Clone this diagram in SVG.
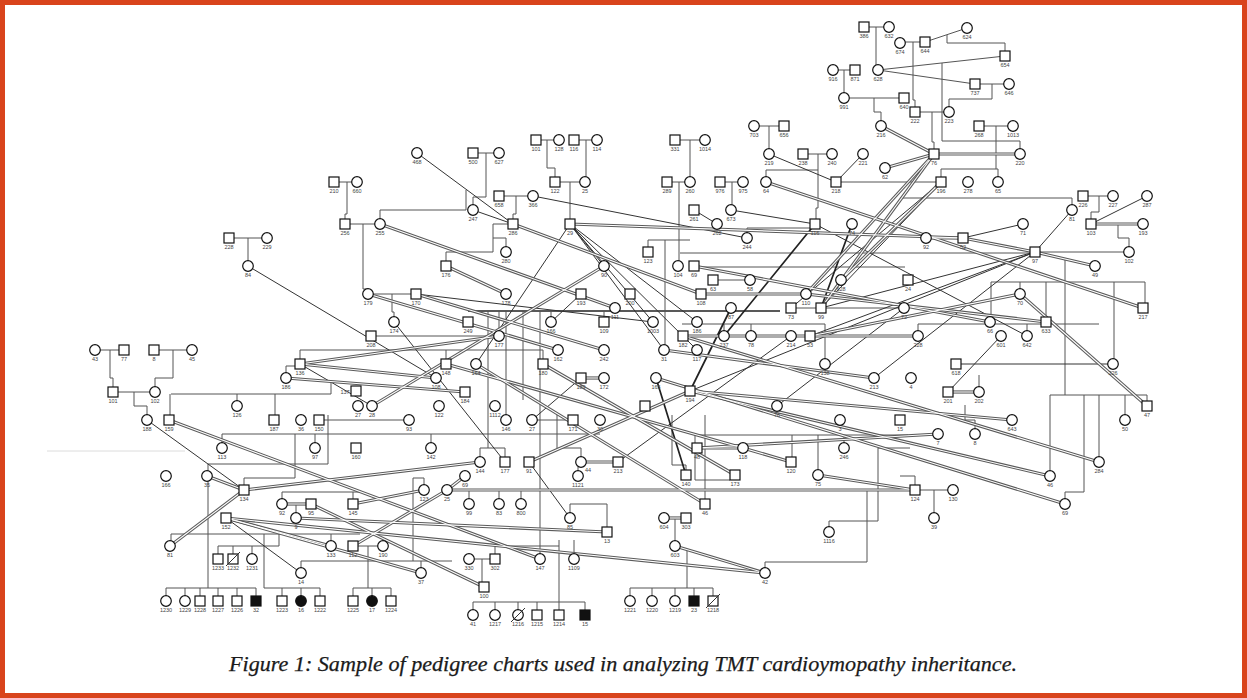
<svg xmlns="http://www.w3.org/2000/svg" xmlns:xlink="http://www.w3.org/1999/xlink" width="1247" height="698" viewBox="0 0 1247 698">
<style>
.s{fill:#fff;stroke:#111;stroke-width:1.2}
.f{fill:#111;stroke:#111;stroke-width:1.2}
text{font-family:"Liberation Sans",Arial,sans-serif;font-size:5.5px;fill:#444;text-anchor:middle}
.l{fill:none;stroke:#555;stroke-width:1}
.d{fill:none;stroke:#333;stroke-width:1}
.t{fill:none;stroke:#222;stroke-width:1.7}
.dO{fill:none;stroke:#5a5a5a;stroke-width:3.2}
.dI{fill:none;stroke:#fff;stroke-width:1.1}
.cap{font-family:"Liberation Serif","Times New Roman",serif;font-style:italic;font-size:21px;fill:#1a1a1a;text-anchor:start;stroke:#1a1a1a;stroke-width:0.25}
</style>
<defs>
<g id="dbl">
<path d="M934,154H1020"/><path d="M881,126L934,154"/><path d="M885,168L934,154"/><path d="M766,182L1143,308"/>
<path d="M926,238H963"/><path d="M963,238L1035,252"/><path d="M1035,252L1095,266"/><path d="M1091,224H1143"/>
<path d="M380,224L615,308"/><path d="M513,224L701,294"/><path d="M570,224L963,238"/><path d="M446,266L506,294"/>
<path d="M604,266L372,406"/><path d="M368,294L558,350"/><path d="M416,294L604,350"/><path d="M499,336L300,364"/>
<path d="M300,364L436,378"/><path d="M286,378L465,392"/><path d="M581,378H604"/><path d="M446,364L743,448"/>
<path d="M697,448H743"/><path d="M743,448L791,462"/><path d="M169,420L540,559"/><path d="M207,476L244,490"/>
<path d="M244,490L170,546"/><path d="M244,490L480,462"/><path d="M282,504H311"/><path d="M296,518L607,532"/>
<path d="M226,518L331,546"/><path d="M226,518L765,573"/><path d="M226,518L421,573"/><path d="M311,504L484,587"/>
<path d="M529,462L690,391"/><path d="M581,462H618"/><path d="M447,490H915"/><path d="M447,490L465,476"/>
<path d="M424,490L353,504"/><path d="M447,490L353,546"/><path d="M476,364L705,504"/><path d="M664,518H686"/>
<path d="M675,546L765,573"/><path d="M818,475L915,490"/><path d="M1020,294L1147,406"/><path d="M806,294L1046,322"/>
<path d="M694,266L990,322"/><path d="M683,336L918,336"/><path d="M810,336L1020,294"/><path d="M701,294H806"/>
<path d="M664,350L874,378"/><path d="M948,392H979"/><path d="M697,448L938,434"/><path d="M690,391L1012,420"/>
<path d="M690,391L1050,476"/><path d="M683,336L1099,462"/><path d="M656,378L1065,504"/><path d="M543,364L735,475"/>
<path d="M934,154L806,294"/><path d="M934,154L821,308"/><path d="M941,182L841,280"/>
</g>
</defs>
<rect x="0" y="0" width="1247" height="698" fill="#fff"/>
<rect x="2.5" y="2.5" width="1242" height="693" fill="none" stroke="#d9441c" stroke-width="5"/>
<path d="M47,451H185" stroke="#dcdcdc" stroke-width="1" fill="none"/>
<g id="connectors">
<path class="l" d="M864,27H889M876,27V65M900,42H925M913,42V100H915V107M925,42L967,28M947,35V43H1005V51M833,70H855M844,70V93M878,70L1005,56M878,70L975,84M942,63V141H1020V149M975,84H1009M992,84V99H949V107M844,98H904M874,98V112H881V121M915,112H949M932,112V142H934V149M979,126H1013M996,126V169M941,169H998M941,169V177M998,169V177M754,126H784M769,126V149M675,140H705M690,140V177M536,140H559M547,140V168H555V177M574,140H597M586,140V177M473,153H499M486,153V197H473V205M466,190V210H380V219M803,154H832M818,154V208H816V219M766,170H818M766,170V177M555,182H585M570,182V219M667,182H690M679,182V261M720,182H743M732,182V205M836,182H941M334,182H357M347,182V214H345V219M499,196H533M516,196V214H513V219M1083,196H1113M1099,196V212H1091V219M1118,224V238H1129V247M1035,252H1129M1072,205V198H900M747,233V228H818M345,224H380M363,224V289H368M368,294H416M392,294V312H394V317M493,224H513M493,224V252H446V261M493,238H506V247M229,238H267M248,238V261M648,247V240H690M680,253H1030M700,267H905M712,280H750M791,308H821M821,308H904"/>
<path class="t" d="M468,311H780"/>
<path class="l" d="M488,311V448M499,311V331M506,311V415M523,311V400M540,311V554M551,311V317M604,311V317M682,324H825V359M724,324V331M751,324V331M665,240V345M95,350H124M110,350V378H113V387M154,350H192M173,350V378H155V387M113,392H155M134,392V406H147V415M300,350V359M300,350H543V359M446,350V359M286,373V366H295M171,394H331V383M170,394V415M237,394V401M275,394V415M371,336H499M320,420H409M532,420H573M222,434H600M222,434V443M315,434V443M328,415V464M431,434V443M208,464H328M208,464V471M208,481V588M166,588H256M166,588V596M185,588V596M200,588V596M218,588V596M237,588V596M256,588V596M244,485V478H295V434M282,492H360M282,492V499M353,492V499M296,504V513M171,534H360M171,534V541M331,534V541M279,534V546H218V554M233,546V554M252,546V554M264,534V588H320M282,588V596M301,588V596M320,588V596M301,568V561H452M421,561V568M413,478H424V485M413,478V561M353,546H383M368,546V588M353,588H391M353,588V596M372,588V596M391,588V596M469,559H495M482,559V582M495,554V546H559M559,540V602M473,602H585M473,602V610M495,602V610M518,602V610M537,602V610M559,602V610M585,602V610M574,554V540M480,457V448H505V457M560,448H581V457M557,415V448M578,471V467M469,490V499M499,490V499M521,490V499M570,513V504H607V527M672,415V465H686V470M705,415V499M695,435H908M695,435V480H730M792,435V457M818,435V470M844,443V435M878,448H910M878,448V521H829V527M675,518V541M687,551V588M630,588H713M630,588V596M652,588V596M675,588V596M694,588V596M713,588V596M765,568V562H867V491M900,476H915V485M915,490H953M934,490V513M1065,259V395M1050,395H1147M1050,395V471M1084,395V492H1065V499M1099,395V457M1125,395V415M1147,395V401M965,405V420H975V429M991,282H1145M991,282V317M1020,282V289M1046,282V317M1114,282V359M1145,282V303M918,324H1099M918,324V331M1027,324V331M979,387V375"/>
<path class="d" d="M417,153L513,224M473,210L513,224M533,196L747,238M769,154L836,182M863,154L836,182M694,210L717,224M731,210L815,224M248,266L436,378M570,224L476,364M570,224L604,266M570,224L697,322M570,224L697,350M570,224L653,322M570,224L664,350M416,294L653,322M394,322L505,462M551,322L581,294M581,378L532,420M147,420L244,490M300,364L372,406M226,518L301,573M529,462L570,518M791,336L618,462M777,406L904,308M963,238L1023,224M1035,252L1072,210M1035,252L690,391M1035,252L810,336M1035,252L874,378M1035,252L821,308M1147,196L1091,224M1001,336L948,392M815,224L1027,336M941,182L821,308M941,182L791,308M956,364L1113,364"/>
<path class="t" d="M815,224L724,336M731,308L690,391M821,308L852,224M656,378L686,475"/>
<use xlink:href="#dbl" href="#dbl" class="dO"/>
<use xlink:href="#dbl" href="#dbl" class="dI"/>
</g>
<g id="n386"><rect class="s" x="859" y="22" width="10" height="10"/><text x="864" y="38">386</text></g>
<g id="n632"><circle class="s" cx="889" cy="27" r="5.3"/><text x="889" y="38">632</text></g>
<g id="n674"><circle class="s" cx="900" cy="43" r="5.3"/><text x="900" y="54">674</text></g>
<g id="n644"><rect class="s" x="920" y="37" width="10" height="10"/><text x="925" y="53">644</text></g>
<g id="n624"><circle class="s" cx="967" cy="28" r="5.3"/><text x="967" y="39">624</text></g>
<g id="n654"><rect class="s" x="1000" y="51" width="10" height="10"/><text x="1005" y="67">654</text></g>
<g id="n916"><circle class="s" cx="833" cy="70" r="5.3"/><text x="833" y="81">916</text></g>
<g id="n871"><rect class="s" x="850" y="65" width="10" height="10"/><text x="855" y="81">871</text></g>
<g id="n628a"><circle class="s" cx="878" cy="70" r="5.3"/><text x="878" y="81">628</text></g>
<g id="n737"><rect class="s" x="970" y="79" width="10" height="10"/><text x="975" y="95">737</text></g>
<g id="n646"><circle class="s" cx="1009" cy="84" r="5.3"/><text x="1009" y="95">646</text></g>
<g id="n991"><circle class="s" cx="844" cy="98" r="5.3"/><text x="844" y="109">991</text></g>
<g id="n640"><rect class="s" x="899" y="93" width="10" height="10"/><text x="904" y="109">640</text></g>
<g id="n222"><rect class="s" x="910" y="107" width="10" height="10"/><text x="915" y="123">222</text></g>
<g id="n223"><circle class="s" cx="949" cy="112" r="5.3"/><text x="949" y="123">223</text></g>
<g id="n216"><circle class="s" cx="881" cy="126" r="5.3"/><text x="881" y="137">216</text></g>
<g id="n703"><circle class="s" cx="754" cy="126" r="5.3"/><text x="754" y="137">703</text></g>
<g id="n656"><rect class="s" x="779" y="121" width="10" height="10"/><text x="784" y="137">656</text></g>
<g id="n268"><rect class="s" x="974" y="121" width="10" height="10"/><text x="979" y="137">268</text></g>
<g id="n1013"><circle class="s" cx="1013" cy="126" r="5.3"/><text x="1013" y="137">1013</text></g>
<g id="n331"><rect class="s" x="670" y="135" width="10" height="10"/><text x="675" y="151">331</text></g>
<g id="n1014"><circle class="s" cx="705" cy="140" r="5.3"/><text x="705" y="151">1014</text></g>
<g id="n101a"><rect class="s" x="531" y="135" width="10" height="10"/><text x="536" y="151">101</text></g>
<g id="n128"><circle class="s" cx="559" cy="140" r="5.3"/><text x="559" y="151">128</text></g>
<g id="n116a"><rect class="s" x="569" y="135" width="10" height="10"/><text x="574" y="151">116</text></g>
<g id="n114"><circle class="s" cx="597" cy="140" r="5.3"/><text x="597" y="151">114</text></g>
<g id="n468"><circle class="s" cx="417" cy="153" r="5.3"/><text x="417" y="164">468</text></g>
<g id="n500"><rect class="s" x="468" y="148" width="10" height="10"/><text x="473" y="164">500</text></g>
<g id="n627"><circle class="s" cx="499" cy="153" r="5.3"/><text x="499" y="164">627</text></g>
<g id="n76a"><rect class="s" x="929" y="149" width="10" height="10"/><text x="934" y="165">76</text></g>
<g id="n220"><circle class="s" cx="1020" cy="154" r="5.3"/><text x="1020" y="165">220</text></g>
<g id="n62"><circle class="s" cx="885" cy="168" r="5.3"/><text x="885" y="179">62</text></g>
<g id="n219"><circle class="s" cx="769" cy="154" r="5.3"/><text x="769" y="165">219</text></g>
<g id="n238"><rect class="s" x="798" y="149" width="10" height="10"/><text x="803" y="165">238</text></g>
<g id="n240"><circle class="s" cx="832" cy="154" r="5.3"/><text x="832" y="165">240</text></g>
<g id="n221"><circle class="s" cx="863" cy="154" r="5.3"/><text x="863" y="165">221</text></g>
<g id="n122a"><rect class="s" x="550" y="177" width="10" height="10"/><text x="555" y="193">122</text></g>
<g id="n25a"><circle class="s" cx="585" cy="182" r="5.3"/><text x="585" y="193">25</text></g>
<g id="n289"><rect class="s" x="662" y="177" width="10" height="10"/><text x="667" y="193">289</text></g>
<g id="n260"><circle class="s" cx="690" cy="182" r="5.3"/><text x="690" y="193">260</text></g>
<g id="n976"><rect class="s" x="715" y="177" width="10" height="10"/><text x="720" y="193">976</text></g>
<g id="n975"><circle class="s" cx="743" cy="182" r="5.3"/><text x="743" y="193">975</text></g>
<g id="n64"><circle class="s" cx="766" cy="182" r="5.3"/><text x="766" y="193">64</text></g>
<g id="n218"><rect class="s" x="831" y="177" width="10" height="10"/><text x="836" y="193">218</text></g>
<g id="n196"><rect class="s" x="936" y="177" width="10" height="10"/><text x="941" y="193">196</text></g>
<g id="n278"><circle class="s" cx="968" cy="182" r="5.3"/><text x="968" y="193">278</text></g>
<g id="n65"><circle class="s" cx="998" cy="182" r="5.3"/><text x="998" y="193">65</text></g>
<g id="n210"><rect class="s" x="329" y="177" width="10" height="10"/><text x="334" y="193">210</text></g>
<g id="n660"><circle class="s" cx="357" cy="182" r="5.3"/><text x="357" y="193">660</text></g>
<g id="n658"><rect class="s" x="494" y="191" width="10" height="10"/><text x="499" y="207">658</text></g>
<g id="n366"><circle class="s" cx="533" cy="196" r="5.3"/><text x="533" y="207">366</text></g>
<g id="n247"><circle class="s" cx="473" cy="210" r="5.3"/><text x="473" y="221">247</text></g>
<g id="n261"><rect class="s" x="689" y="205" width="10" height="10"/><text x="694" y="221">261</text></g>
<g id="n673"><circle class="s" cx="731" cy="210" r="5.3"/><text x="731" y="221">673</text></g>
<g id="n226a"><rect class="s" x="1078" y="191" width="10" height="10"/><text x="1083" y="207">226</text></g>
<g id="n227"><circle class="s" cx="1113" cy="196" r="5.3"/><text x="1113" y="207">227</text></g>
<g id="n287"><circle class="s" cx="1147" cy="196" r="5.3"/><text x="1147" y="207">287</text></g>
<g id="n81a"><circle class="s" cx="1072" cy="210" r="5.3"/><text x="1072" y="221">81</text></g>
<g id="n256"><rect class="s" x="340" y="219" width="10" height="10"/><text x="345" y="235">256</text></g>
<g id="n255"><circle class="s" cx="380" cy="224" r="5.3"/><text x="380" y="235">255</text></g>
<g id="n286"><rect class="s" x="508" y="219" width="10" height="10"/><text x="513" y="235">286</text></g>
<g id="n29"><rect class="s" x="565" y="219" width="10" height="10"/><text x="570" y="235">29</text></g>
<g id="n262"><circle class="s" cx="717" cy="224" r="5.3"/><text x="717" y="235">262</text></g>
<g id="n244"><circle class="s" cx="747" cy="238" r="5.3"/><text x="747" y="249">244</text></g>
<g id="n116b"><rect class="s" x="810" y="219" width="10" height="10"/><text x="815" y="235">116</text></g>
<g id="n74"><circle class="s" cx="852" cy="224" r="5.3"/><text x="852" y="235">74</text></g>
<g id="n103"><rect class="s" x="1086" y="219" width="10" height="10"/><text x="1091" y="235">103</text></g>
<g id="n193a"><circle class="s" cx="1143" cy="224" r="5.3"/><text x="1143" y="235">193</text></g>
<g id="n71"><circle class="s" cx="1023" cy="224" r="5.3"/><text x="1023" y="235">71</text></g>
<g id="n228a"><rect class="s" x="224" y="233" width="10" height="10"/><text x="229" y="249">228</text></g>
<g id="n229"><circle class="s" cx="267" cy="238" r="5.3"/><text x="267" y="249">229</text></g>
<g id="n84"><circle class="s" cx="248" cy="266" r="5.3"/><text x="248" y="277">84</text></g>
<g id="n92a"><circle class="s" cx="926" cy="238" r="5.3"/><text x="926" y="249">92</text></g>
<g id="n52"><rect class="s" x="958" y="233" width="10" height="10"/><text x="963" y="249">52</text></g>
<g id="n102a"><circle class="s" cx="1129" cy="252" r="5.3"/><text x="1129" y="263">102</text></g>
<g id="n123a"><rect class="s" x="643" y="247" width="10" height="10"/><text x="648" y="263">123</text></g>
<g id="n97a"><rect class="s" x="1030" y="247" width="10" height="10"/><text x="1035" y="263">97</text></g>
<g id="n280"><circle class="s" cx="506" cy="252" r="5.3"/><text x="506" y="263">280</text></g>
<g id="n49"><circle class="s" cx="1095" cy="266" r="5.3"/><text x="1095" y="277">49</text></g>
<g id="n176"><rect class="s" x="441" y="261" width="10" height="10"/><text x="446" y="277">176</text></g>
<g id="n90"><circle class="s" cx="604" cy="266" r="5.3"/><text x="604" y="277">90</text></g>
<g id="n104"><circle class="s" cx="678" cy="266" r="5.3"/><text x="678" y="277">104</text></g>
<g id="n69a"><rect class="s" x="689" y="261" width="10" height="10"/><text x="694" y="277">69</text></g>
<g id="n63"><rect class="s" x="708" y="275" width="10" height="10"/><text x="713" y="291">63</text></g>
<g id="n58"><circle class="s" cx="750" cy="280" r="5.3"/><text x="750" y="291">58</text></g>
<g id="n628b"><circle class="s" cx="841" cy="280" r="5.3"/><text x="841" y="291">628</text></g>
<g id="n24"><rect class="s" x="903" y="275" width="10" height="10"/><text x="908" y="291">24</text></g>
<g id="n179"><circle class="s" cx="368" cy="294" r="5.3"/><text x="368" y="305">179</text></g>
<g id="n170"><rect class="s" x="411" y="289" width="10" height="10"/><text x="416" y="305">170</text></g>
<g id="n178"><circle class="s" cx="506" cy="294" r="5.3"/><text x="506" y="305">178</text></g>
<g id="n193b"><rect class="s" x="576" y="289" width="10" height="10"/><text x="581" y="305">193</text></g>
<g id="n200"><rect class="s" x="625" y="289" width="10" height="10"/><text x="630" y="305">200</text></g>
<g id="n111"><circle class="s" cx="615" cy="308" r="5.3"/><text x="615" y="319">111</text></g>
<g id="n108a"><rect class="s" x="696" y="289" width="10" height="10"/><text x="701" y="305">108</text></g>
<g id="n110"><circle class="s" cx="806" cy="294" r="5.3"/><text x="806" y="305">110</text></g>
<g id="n87"><circle class="s" cx="731" cy="308" r="5.3"/><text x="731" y="319">87</text></g>
<g id="n73"><rect class="s" x="786" y="303" width="10" height="10"/><text x="791" y="319">73</text></g>
<g id="n99a"><rect class="s" x="816" y="303" width="10" height="10"/><text x="821" y="319">99</text></g>
<g id="n72"><circle class="s" cx="904" cy="308" r="5.3"/><text x="904" y="319">72</text></g>
<g id="n249"><rect class="s" x="463" y="317" width="10" height="10"/><text x="468" y="333">249</text></g>
<g id="n166a"><circle class="s" cx="551" cy="322" r="5.3"/><text x="551" y="333">166</text></g>
<g id="n109"><rect class="s" x="599" y="317" width="10" height="10"/><text x="604" y="333">109</text></g>
<g id="n174"><circle class="s" cx="394" cy="322" r="5.3"/><text x="394" y="333">174</text></g>
<g id="n1003"><circle class="s" cx="653" cy="322" r="5.3"/><text x="653" y="333">1003</text></g>
<g id="n186a"><circle class="s" cx="697" cy="322" r="5.3"/><text x="697" y="333">186</text></g>
<g id="n70"><circle class="s" cx="1020" cy="294" r="5.3"/><text x="1020" y="305">70</text></g>
<g id="n217"><rect class="s" x="1138" y="303" width="10" height="10"/><text x="1143" y="319">217</text></g>
<g id="n66"><circle class="s" cx="990" cy="322" r="5.3"/><text x="990" y="333">66</text></g>
<g id="n633"><rect class="s" x="1041" y="317" width="10" height="10"/><text x="1046" y="333">633</text></g>
<g id="n208"><rect class="s" x="366" y="331" width="10" height="10"/><text x="371" y="347">208</text></g>
<g id="n177a"><circle class="s" cx="499" cy="336" r="5.3"/><text x="499" y="347">177</text></g>
<g id="n182"><rect class="s" x="678" y="331" width="10" height="10"/><text x="683" y="347">182</text></g>
<g id="n237"><circle class="s" cx="724" cy="336" r="5.3"/><text x="724" y="347">237</text></g>
<g id="n78"><circle class="s" cx="751" cy="336" r="5.3"/><text x="751" y="347">78</text></g>
<g id="n214"><circle class="s" cx="791" cy="336" r="5.3"/><text x="791" y="347">214</text></g>
<g id="n53"><rect class="s" x="805" y="331" width="10" height="10"/><text x="810" y="347">53</text></g>
<g id="n228b"><circle class="s" cx="918" cy="336" r="5.3"/><text x="918" y="347">228</text></g>
<g id="n642"><circle class="s" cx="1027" cy="336" r="5.3"/><text x="1027" y="347">642</text></g>
<g id="n601"><circle class="s" cx="1001" cy="336" r="5.3"/><text x="1001" y="347">601</text></g>
<g id="n43"><circle class="s" cx="95" cy="350" r="5.3"/><text x="95" y="361">43</text></g>
<g id="n77"><rect class="s" x="119" y="345" width="10" height="10"/><text x="124" y="361">77</text></g>
<g id="n8a"><rect class="s" x="149" y="345" width="10" height="10"/><text x="154" y="361">8</text></g>
<g id="n45"><circle class="s" cx="192" cy="350" r="5.3"/><text x="192" y="361">45</text></g>
<g id="n162"><circle class="s" cx="558" cy="350" r="5.3"/><text x="558" y="361">162</text></g>
<g id="n242"><circle class="s" cx="604" cy="350" r="5.3"/><text x="604" y="361">242</text></g>
<g id="n31"><circle class="s" cx="664" cy="350" r="5.3"/><text x="664" y="361">31</text></g>
<g id="n117"><circle class="s" cx="697" cy="350" r="5.3"/><text x="697" y="361">117</text></g>
<g id="n136"><rect class="s" x="295" y="359" width="10" height="10"/><text x="300" y="375">136</text></g>
<g id="n148"><rect class="s" x="441" y="359" width="10" height="10"/><text x="446" y="375">148</text></g>
<g id="n164"><circle class="s" cx="476" cy="364" r="5.3"/><text x="476" y="375">164</text></g>
<g id="n180"><rect class="s" x="538" y="359" width="10" height="10"/><text x="543" y="375">180</text></g>
<g id="n138"><circle class="s" cx="825" cy="364" r="5.3"/><text x="825" y="375">138</text></g>
<g id="n618"><rect class="s" x="951" y="359" width="10" height="10"/><text x="956" y="375">618</text></g>
<g id="n226b"><circle class="s" cx="1113" cy="364" r="5.3"/><text x="1113" y="375">226</text></g>
<g id="n186b"><circle class="s" cx="286" cy="378" r="5.3"/><text x="286" y="389">186</text></g>
<g id="n108b"><circle class="s" cx="436" cy="378" r="5.3"/><text x="436" y="389">108</text></g>
<g id="n189"><rect class="s" x="576" y="373" width="10" height="10"/><text x="581" y="389">189</text></g>
<g id="n172"><circle class="s" cx="604" cy="378" r="5.3"/><text x="604" y="389">172</text></g>
<g id="n165"><circle class="s" cx="656" cy="378" r="5.3"/><text x="656" y="389">165</text></g>
<g id="n213a"><circle class="s" cx="874" cy="378" r="5.3"/><text x="874" y="389">213</text></g>
<g id="n4"><circle class="s" cx="911" cy="378" r="5.3"/><text x="911" y="389">4</text></g>
<g id="n101b"><rect class="s" x="108" y="387" width="10" height="10"/><text x="113" y="403">101</text></g>
<g id="n102b"><circle class="s" cx="155" cy="392" r="5.3"/><text x="155" y="403">102</text></g>
<g id="n137"><rect class="s" x="351" y="386" width="10" height="10"/><text x="345" y="394">137</text></g>
<g id="n184"><rect class="s" x="460" y="387" width="10" height="10"/><text x="465" y="403">184</text></g>
<g id="n194"><rect class="s" x="685" y="386" width="10" height="10"/><text x="690" y="402">194</text></g>
<g id="n201"><rect class="s" x="943" y="387" width="10" height="10"/><text x="948" y="403">201</text></g>
<g id="n202"><circle class="s" cx="979" cy="392" r="5.3"/><text x="979" y="403">202</text></g>
<g id="n126"><circle class="s" cx="237" cy="406" r="5.3"/><text x="237" y="417">126</text></g>
<g id="n27a"><circle class="s" cx="358" cy="406" r="5.3"/><text x="358" y="417">27</text></g>
<g id="n28"><circle class="s" cx="372" cy="406" r="5.3"/><text x="372" y="417">28</text></g>
<g id="n122b"><circle class="s" cx="439" cy="406" r="5.3"/><text x="439" y="417">122</text></g>
<g id="n1112"><circle class="s" cx="495" cy="406" r="5.3"/><text x="495" y="417">1112</text></g>
<g id="n76b"><circle class="s" cx="777" cy="406" r="5.3"/><text x="777" y="417">76</text></g>
<g id="nsq645"><rect class="s" x="640" y="401" width="10" height="10"/></g>
<g id="n47"><rect class="s" x="1142" y="401" width="10" height="10"/><text x="1147" y="417">47</text></g>
<g id="n188"><circle class="s" cx="147" cy="420" r="5.3"/><text x="147" y="431">188</text></g>
<g id="n159"><rect class="s" x="164" y="415" width="10" height="10"/><text x="169" y="431">159</text></g>
<g id="n187"><rect class="s" x="269" y="415" width="10" height="10"/><text x="274" y="431">187</text></g>
<g id="n36"><circle class="s" cx="301" cy="420" r="5.3"/><text x="301" y="431">36</text></g>
<g id="n150"><rect class="s" x="314" y="415" width="10" height="10"/><text x="319" y="431">150</text></g>
<g id="n93"><circle class="s" cx="409" cy="420" r="5.3"/><text x="409" y="431">93</text></g>
<g id="n146"><circle class="s" cx="506" cy="420" r="5.3"/><text x="506" y="431">146</text></g>
<g id="n27b"><circle class="s" cx="532" cy="420" r="5.3"/><text x="532" y="431">27</text></g>
<g id="n171"><rect class="s" x="568" y="415" width="10" height="10"/><text x="573" y="431">171</text></g>
<g id="n30"><circle class="s" cx="600" cy="420" r="5.3"/><text x="600" y="431">30</text></g>
<g id="n3"><circle class="s" cx="840" cy="420" r="5.3"/><text x="840" y="431">3</text></g>
<g id="n15a"><rect class="s" x="895" y="415" width="10" height="10"/><text x="900" y="431">15</text></g>
<g id="n643"><circle class="s" cx="1012" cy="420" r="5.3"/><text x="1012" y="431">643</text></g>
<g id="n50"><circle class="s" cx="1125" cy="420" r="5.3"/><text x="1125" y="431">50</text></g>
<g id="n7"><circle class="s" cx="938" cy="434" r="5.3"/><text x="938" y="445">7</text></g>
<g id="n8b"><circle class="s" cx="975" cy="434" r="5.3"/><text x="975" y="445">8</text></g>
<g id="n113"><circle class="s" cx="222" cy="448" r="5.3"/><text x="222" y="459">113</text></g>
<g id="n97b"><circle class="s" cx="315" cy="448" r="5.3"/><text x="315" y="459">97</text></g>
<g id="n160"><rect class="s" x="351" y="443" width="10" height="10"/><text x="356" y="459">160</text></g>
<g id="n142"><circle class="s" cx="431" cy="448" r="5.3"/><text x="431" y="459">142</text></g>
<g id="n48"><rect class="s" x="692" y="443" width="10" height="10"/><text x="697" y="459">48</text></g>
<g id="n118"><circle class="s" cx="743" cy="448" r="5.3"/><text x="743" y="459">118</text></g>
<g id="n246"><circle class="s" cx="844" cy="448" r="5.3"/><text x="844" y="459">246</text></g>
<g id="n144"><circle class="s" cx="480" cy="462" r="5.3"/><text x="480" y="473">144</text></g>
<g id="n177b"><rect class="s" x="500" y="457" width="10" height="10"/><text x="505" y="473">177</text></g>
<g id="n91"><rect class="s" x="524" y="457" width="10" height="10"/><text x="529" y="473">91</text></g>
<g id="n44"><circle class="s" cx="581" cy="462" r="5.3"/><text x="588" y="472">44</text></g>
<g id="n213b"><rect class="s" x="613" y="457" width="10" height="10"/><text x="618" y="473">213</text></g>
<g id="n120"><rect class="s" x="786" y="457" width="10" height="10"/><text x="791" y="473">120</text></g>
<g id="n284"><circle class="s" cx="1099" cy="462" r="5.3"/><text x="1099" y="473">284</text></g>
<g id="n166b"><circle class="s" cx="166" cy="476" r="5.3"/><text x="166" y="487">166</text></g>
<g id="n35"><circle class="s" cx="207" cy="476" r="5.3"/><text x="207" y="487">35</text></g>
<g id="n69b"><circle class="s" cx="465" cy="476" r="5.3"/><text x="465" y="487">69</text></g>
<g id="n1121"><circle class="s" cx="578" cy="476" r="5.3"/><text x="578" y="487">1121</text></g>
<g id="n140"><rect class="s" x="681" y="470" width="10" height="10"/><text x="686" y="486">140</text></g>
<g id="n173"><rect class="s" x="730" y="470" width="10" height="10"/><text x="735" y="486">173</text></g>
<g id="n75"><circle class="s" cx="818" cy="475" r="5.3"/><text x="818" y="486">75</text></g>
<g id="n46a"><circle class="s" cx="1050" cy="476" r="5.3"/><text x="1050" y="487">46</text></g>
<g id="n134"><rect class="s" x="239" y="485" width="10" height="10"/><text x="244" y="501">134</text></g>
<g id="n123b"><circle class="s" cx="424" cy="490" r="5.3"/><text x="424" y="501">123</text></g>
<g id="n25b"><circle class="s" cx="447" cy="490" r="5.3"/><text x="447" y="501">25</text></g>
<g id="n124"><rect class="s" x="910" y="485" width="10" height="10"/><text x="915" y="501">124</text></g>
<g id="n130"><circle class="s" cx="953" cy="490" r="5.3"/><text x="953" y="501">130</text></g>
<g id="n92b"><circle class="s" cx="282" cy="504" r="5.3"/><text x="282" y="515">92</text></g>
<g id="n95"><rect class="s" x="306" y="499" width="10" height="10"/><text x="311" y="515">95</text></g>
<g id="n145"><rect class="s" x="348" y="499" width="10" height="10"/><text x="353" y="515">145</text></g>
<g id="n99b"><circle class="s" cx="469" cy="504" r="5.3"/><text x="469" y="515">99</text></g>
<g id="n83"><circle class="s" cx="499" cy="504" r="5.3"/><text x="499" y="515">83</text></g>
<g id="n800"><circle class="s" cx="521" cy="504" r="5.3"/><text x="521" y="515">800</text></g>
<g id="n46b"><rect class="s" x="700" y="499" width="10" height="10"/><text x="705" y="515">46</text></g>
<g id="n69c"><circle class="s" cx="1065" cy="504" r="5.3"/><text x="1065" y="515">69</text></g>
<g id="n39"><circle class="s" cx="934" cy="518" r="5.3"/><text x="934" y="529">39</text></g>
<g id="n9"><circle class="s" cx="296" cy="518" r="5.3"/><text x="296" y="529">9</text></g>
<g id="n152"><rect class="s" x="221" y="513" width="10" height="10"/><text x="226" y="529">152</text></g>
<g id="n604"><circle class="s" cx="664" cy="518" r="5.3"/><text x="664" y="529">604</text></g>
<g id="n303"><rect class="s" x="681" y="513" width="10" height="10"/><text x="686" y="529">303</text></g>
<g id="n85"><circle class="s" cx="570" cy="518" r="5.3"/><text x="570" y="529">85</text></g>
<g id="n1116"><circle class="s" cx="829" cy="532" r="5.3"/><text x="829" y="543">1116</text></g>
<g id="n13"><rect class="s" x="602" y="527" width="10" height="10"/><text x="607" y="543">13</text></g>
<g id="n81b"><circle class="s" cx="170" cy="546" r="5.3"/><text x="170" y="557">81</text></g>
<g id="n133"><circle class="s" cx="331" cy="546" r="5.3"/><text x="331" y="557">133</text></g>
<g id="n112"><rect class="s" x="348" y="541" width="10" height="10"/><text x="353" y="557">112</text></g>
<g id="n190"><circle class="s" cx="383" cy="546" r="5.3"/><text x="383" y="557">190</text></g>
<g id="n603"><circle class="s" cx="675" cy="546" r="5.3"/><text x="675" y="557">603</text></g>
<g id="n1233"><rect class="s" x="213" y="554" width="10" height="10"/><text x="218" y="570">1233</text></g>
<g id="n1232"><rect class="s" x="228" y="554" width="10" height="10"/><path class="d" d="M226,566L240,552"/><text x="233" y="570">1232</text></g>
<g id="n1231"><circle class="s" cx="252" cy="559" r="5.3"/><text x="252" y="570">1231</text></g>
<g id="n330"><circle class="s" cx="469" cy="559" r="5.3"/><text x="469" y="570">330</text></g>
<g id="n302"><rect class="s" x="490" y="554" width="10" height="10"/><text x="495" y="570">302</text></g>
<g id="n147"><circle class="s" cx="540" cy="559" r="5.3"/><text x="540" y="570">147</text></g>
<g id="n1109"><circle class="s" cx="574" cy="559" r="5.3"/><text x="574" y="570">1109</text></g>
<g id="n14"><circle class="s" cx="301" cy="573" r="5.3"/><text x="301" y="584">14</text></g>
<g id="n37"><circle class="s" cx="421" cy="573" r="5.3"/><text x="421" y="584">37</text></g>
<g id="n42"><circle class="s" cx="765" cy="573" r="5.3"/><text x="765" y="584">42</text></g>
<g id="n100"><rect class="s" x="479" y="582" width="10" height="10"/><text x="484" y="598">100</text></g>
<g id="n1230"><circle class="s" cx="166" cy="601" r="5.3"/><text x="166" y="612">1230</text></g>
<g id="n1229"><circle class="s" cx="185" cy="601" r="5.3"/><text x="185" y="612">1229</text></g>
<g id="n1228"><rect class="s" x="195" y="596" width="10" height="10"/><text x="200" y="612">1228</text></g>
<g id="n1227"><rect class="s" x="213" y="596" width="10" height="10"/><text x="218" y="612">1227</text></g>
<g id="n1226"><rect class="s" x="232" y="596" width="10" height="10"/><text x="237" y="612">1226</text></g>
<g id="n32"><rect class="f" x="251" y="596" width="10" height="10"/><text x="256" y="612">32</text></g>
<g id="n1223"><rect class="s" x="277" y="596" width="10" height="10"/><text x="282" y="612">1223</text></g>
<g id="n16"><circle class="f" cx="301" cy="601" r="5.3"/><text x="301" y="612">16</text></g>
<g id="n1222"><rect class="s" x="315" y="596" width="10" height="10"/><text x="320" y="612">1222</text></g>
<g id="n1225"><rect class="s" x="348" y="596" width="10" height="10"/><text x="353" y="612">1225</text></g>
<g id="n17"><circle class="f" cx="372" cy="601" r="5.3"/><text x="372" y="612">17</text></g>
<g id="n1224"><rect class="s" x="386" y="596" width="10" height="10"/><text x="391" y="612">1224</text></g>
<g id="n41"><circle class="s" cx="473" cy="615" r="5.3"/><text x="473" y="626">41</text></g>
<g id="n1217"><circle class="s" cx="495" cy="615" r="5.3"/><text x="495" y="626">1217</text></g>
<g id="n1216"><circle class="s" cx="518" cy="615" r="5.3"/><path class="d" d="M511,622L525,608"/><text x="518" y="626">1216</text></g>
<g id="n1215"><rect class="s" x="532" y="610" width="10" height="10"/><text x="537" y="626">1215</text></g>
<g id="n1214"><rect class="s" x="554" y="610" width="10" height="10"/><text x="559" y="626">1214</text></g>
<g id="n15b"><rect class="f" x="580" y="610" width="10" height="10"/><text x="585" y="626">15</text></g>
<g id="n1221"><circle class="s" cx="630" cy="601" r="5.3"/><text x="630" y="612">1221</text></g>
<g id="n1220"><circle class="s" cx="652" cy="601" r="5.3"/><text x="652" y="612">1220</text></g>
<g id="n1219"><circle class="s" cx="675" cy="601" r="5.3"/><text x="675" y="612">1219</text></g>
<g id="n23"><rect class="f" x="689" y="596" width="10" height="10"/><text x="694" y="612">23</text></g>
<g id="n1218"><rect class="s" x="708" y="596" width="10" height="10"/><path class="d" d="M706,608L720,594"/><text x="713" y="612">1218</text></g>
<text class="cap" x="229" y="671" textLength="788" lengthAdjust="spacingAndGlyphs">Figure 1: Sample of pedigree charts used in analyzing TMT cardioymopathy inheritance.</text>
</svg>
